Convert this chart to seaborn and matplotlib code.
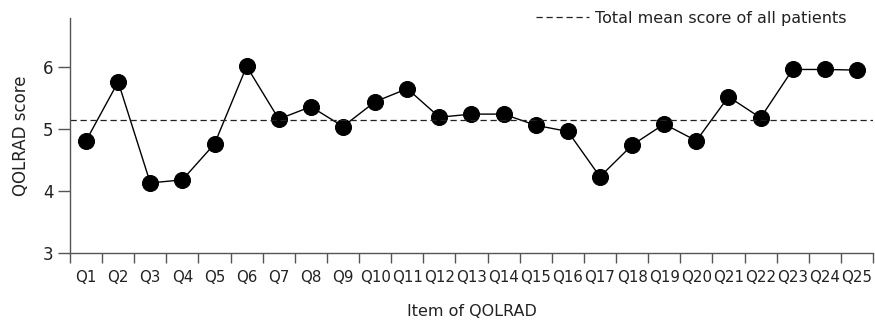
import numpy as np
import pandas as pd
import matplotlib
matplotlib.use("Agg")
import matplotlib.pyplot as plt
import seaborn as sns

items = [f"Q{i}" for i in range(1, 26)]
scores = [4.81, 5.76, 4.13, 4.18, 4.76, 6.01, 5.16, 5.36, 5.04, 5.44,
          5.65, 5.19, 5.24, 5.24, 5.06, 4.96, 4.23, 4.74, 5.08, 4.81,
          5.52, 5.18, 5.96, 5.96, 5.95]
total_mean = 5.14
y_ticks = [3, 4, 5, 6]

sns.set_theme(style="ticks")
plt.rcParams['font.family'] = ['DejaVu Sans']

df = pd.DataFrame({"item": items, "score": scores})
df["pos"] = np.arange(len(items))

fig = plt.figure(figsize=(8.75, 3.22), dpi=100)
ax = fig.add_axes([70/875, 1 - 253/322, (873-70)/875, (253-18)/322])

sns.lineplot(data=df, x="pos", y="score", ax=ax, color="black", linewidth=1.0,
             marker="o", markersize=11.5, markeredgecolor="black",
             markerfacecolor="black")
ax.axhline(total_mean, color="#222222", linestyle=(0, (5, 3)), linewidth=0.9,
           label="Total mean score of all patients")

ax.set_xlim(-0.5, len(items) - 0.5)
ax.set_ylim(3, 6.79)
ax.set_xticks(np.arange(-0.5, len(items), 1))
ax.set_xticklabels([])
ax.set_xticks(np.arange(len(items)), minor=True)
ax.set_xticklabels(items, minor=True)
ax.tick_params(axis="x", which="minor", length=0, pad=12, labelsize=10.8, colors="#222222")
ax.tick_params(axis="x", which="major", length=7, width=1, color="#555555")
ax.set_yticks(y_ticks)
ax.tick_params(axis="y", length=9, width=1, color="#555555", labelsize=12,
               labelcolor="#222222", pad=3)
for s in ["top", "right"]:
    ax.spines[s].set_visible(False)
for s in ["left", "bottom"]:
    ax.spines[s].set_color("#555555")
    ax.spines[s].set_linewidth(1.0)

ax.set_xlabel("Item of QOLRAD", fontsize=11.5, color="#222222", labelpad=14)
ax.set_ylabel("QOLRAD score", fontsize=12, color="#222222", labelpad=9)

leg = ax.legend(loc="center right", bbox_to_anchor=(0.985, 1.0), frameon=False,
                fontsize=11.5, handlelength=3.3, handletextpad=0.4)
for t in leg.get_texts():
    t.set_color("#222222")

fig.savefig("out.png", dpi=100)
